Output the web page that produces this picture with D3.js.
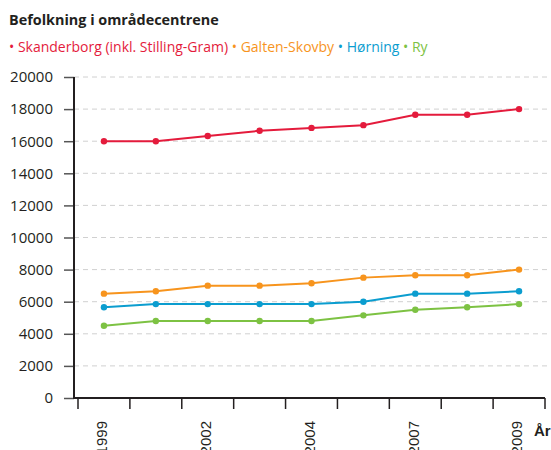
<!DOCTYPE html>
<html lang="da">
<head>
<meta charset="utf-8">
<title>Befolkning i områdecentrene</title>
<script src="https://cdn.jsdelivr.net/npm/d3@7"></script>
<style>
  body { margin: 0; background: #fff; }
  svg { display: block; }
  .title { font-family: "Open Sans", sans-serif; font-weight: bold; font-size: 14.4px; fill: #231f20; }
  .legend { font-family: "Open Sans", sans-serif; font-size: 14px; }
  .yaxis text { font-family: "Open Sans", sans-serif; font-size: 15px; fill: #231f20; }
  .xaxis text { font-family: "Liberation Sans", Arial, sans-serif; font-size: 15px; fill: #231f20; }
</style>
</head>
<body>
<script>
// years on the x axis (only some are labelled in the original)
var years = ["1999", "2001", "2002", "2003", "2004", "2006", "2007", "2008", "2009"];
var yearLabels = ["1999", "", "2002", "", "2004", "", "2007", "", "2009"];
var yTicks = [0, 2000, 4000, 6000, 8000, 10000, 12000, 14000, 16000, 18000, 20000];

var seriesNames = ["Skanderborg (inkl. Stilling-Gram)", "Galten-Skovby", "Hørning", "Ry"];
var seriesColors = ["#e41b3c", "#f7941d", "#0b9dcf", "#7dc243"];

var skanderborg = [16000, 16000, 16320, 16650, 16830, 17000, 17650, 17650, 18000];
var galten = [6500, 6650, 7000, 7000, 7150, 7500, 7650, 7650, 8000];
var horning = [5650, 5850, 5850, 5850, 5850, 6000, 6500, 6500, 6650];
var ry = [4500, 4800, 4800, 4800, 4800, 5150, 5500, 5650, 5850];

var allSeries = [skanderborg, galten, horning, ry];

var width = 551, height = 450;
var plotLeft = 74, plotRight = 545, plotTop = 77, plotBottom = 398;

var svg = d3.select("body").append("svg")
    .attr("width", width)
    .attr("height", height);

// title + legend
svg.append("text").attr("class", "title")
    .attr("x", 9).attr("y", 25)
    .text("Befolkning i områdecentrene");

var legend = svg.append("text").attr("class", "legend")
    .attr("x", 9).attr("y", 52);
seriesNames.forEach(function(name, i) {
    legend.append("tspan")
        .attr("fill", seriesColors[i])
        .text((i > 0 ? " " : "") + "\u2022 " + name);
});

var x = d3.scaleBand().domain(years).range([plotLeft + 4, plotRight]);
var y = d3.scaleLinear().domain([0, 20000]).range([plotBottom, plotTop]);

// dashed gridlines
svg.append("g").selectAll("line")
    .data(yTicks.filter(function(d) { return d > 0; }))
    .enter().append("line")
    .attr("x1", plotLeft).attr("x2", plotRight + 2)
    .attr("y1", function(d) { return y(d); })
    .attr("y2", function(d) { return y(d); })
    .attr("stroke", "#d0d0d0")
    .attr("stroke-width", 1)
    .attr("stroke-dasharray", "5,4");

// y axis
var yAxis = svg.append("g").attr("class", "yaxis")
    .attr("transform", "translate(" + plotLeft + ",0)")
    .call(d3.axisLeft(y).tickValues(yTicks).tickSize(10).tickPadding(11).tickFormat(d3.format("d")));
yAxis.select(".domain").remove();
yAxis.selectAll(".tick line").attr("stroke", "#555").attr("stroke-width", 1.5);
svg.append("line")
    .attr("x1", plotLeft).attr("x2", plotLeft)
    .attr("y1", plotTop).attr("y2", plotBottom + 1)
    .attr("stroke", "#231f20").attr("stroke-width", 2);

// x axis: ticks at band edges, labels at band centers
var xAxis = svg.append("g").attr("class", "xaxis");
xAxis.append("line")
    .attr("x1", plotLeft).attr("x2", plotRight)
    .attr("y1", plotBottom).attr("y2", plotBottom)
    .attr("stroke", "#231f20").attr("stroke-width", 2);
xAxis.selectAll(".tk")
    .data(years.concat(["end"]))
    .enter().append("line")
    .attr("class", "tk")
    .attr("x1", function(d) { return d === "end" ? plotRight : x(d); })
    .attr("x2", function(d) { return d === "end" ? plotRight : x(d); })
    .attr("y1", plotBottom).attr("y2", plotBottom + 11)
    .attr("stroke", "#231f20").attr("stroke-width", 1.5);
xAxis.selectAll(".lbl")
    .data(years)
    .enter().append("text")
    .attr("class", "lbl")
    .attr("transform", function(d) {
        return "translate(" + (x(d) + x.bandwidth() / 2 - 2) + "," + (plotBottom + 23) + ") rotate(-90)";
    })
    .attr("text-anchor", "end")
    .attr("dy", "0.35em")
    .text(function(d, i) { return yearLabels[i]; });
svg.append("text")
    .attr("x", plotRight - 11).attr("y", 436)
    .attr("font-family", "'Liberation Sans', Arial, sans-serif")
    .attr("font-weight", "bold")
    .attr("font-size", "15px")
    .attr("fill", "#231f20")
    .text("År");

// lines and dots
var line = d3.line()
    .x(function(d, i) { return x(years[i]) + x.bandwidth() / 2; })
    .y(function(d) { return y(d); });

allSeries.forEach(function(values, s) {
    svg.append("path")
        .datum(values)
        .attr("fill", "none")
        .attr("stroke", seriesColors[s])
        .attr("stroke-width", 2)
        .attr("d", line);
    svg.append("g").selectAll("circle")
        .data(values)
        .enter().append("circle")
        .attr("cx", function(d, i) { return x(years[i]) + x.bandwidth() / 2; })
        .attr("cy", function(d) { return y(d); })
        .attr("r", 3.2)
        .attr("fill", seriesColors[s]);
});
</script>
</body>
</html>
